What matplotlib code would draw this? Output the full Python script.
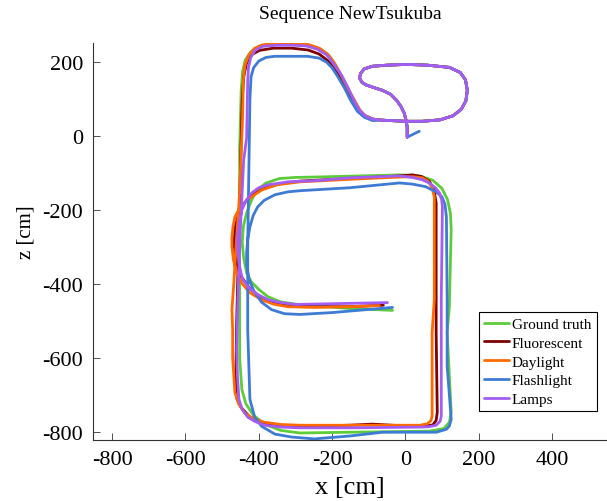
import numpy as np
import matplotlib
matplotlib.use("Agg")
import matplotlib.pyplot as plt

plt.rcParams['font.family'] = ['Liberation Serif', 'DejaVu Serif']
plt.rcParams['axes.unicode_minus'] = False

# small loop near the start point, shared by all runs (x, z in cm)
loop_x = [-63, 0, 46, 95, 130, 152, 165, 169, 164, 150, 120, 60, 3, -50, -90, -112, -122, -125,
          -118, -106, -85, -63, -40, -24, -12, -3, 2, 5, 5]
loop_z = [43, 40, 40, 44, 55, 72, 95, 124, 152, 172, 186, 192, 194, 192, 189, 182, 170, 157,
          145, 138, 131, 124, 113, 97, 80, 62, 42, 24, -3]

# ground truth
gt_x = [-35, -152, -248, -300, -340, -375, -400, -420, -433, -441, -445, -442, -433, -418, -403, -380,
        -343, -300, -248, -125, -16, 40, 75, 100, 115, 123, 125, 120, 114, 120, 125, 120, 105, 65, -152,
        -288, -340, -385, -415, -435, -446, -452, -452, -452, -448, -444, -437, -422, -400, -370, -310,
        -260, -230, -208, -192, -174, -155, -139, -125, -110, -90]
gt_z = [-472, -467, -459, -455, -449, -435, -415, -395, -370, -330, -289, -245, -208, -170, -145, -127,
        -115, -112, -111, -108, -105, -108, -120, -142, -172, -210, -254, -462, -532, -650, -748, -775, -792, -799, -802,
        -804, -797, -780, -755, -725, -686, -600, -443, -38, 120, 175, 205, 228, 243, 248, 248,
        245, 235, 218, 195, 157, 118, 94, 70, 55, 46]

# fluorescent
fl_x = [-60, -152, -248, -321, -360, -395, -425, -448, -462, -467, -465, -456, -440, -418, -388, -350,
        -288, -150, -16, 19, 45, 65, 78, 84, 84, 84, 87, 84, 75, 50, 19, -90, -152, -288, -345, -390,
        -425, -448, -460, -463, -460, -455, -450, -445, -441, -434, -420, -398, -360, -310, -265, -235,
        -210, -192, -180, -160, -139, -125, -110, -90]
fl_z = [-458, -462, -462, -460, -452, -436, -412, -380, -340, -295, -250, -212, -182, -160, -143, -130,
        -122, -115, -108, -105, -110, -122, -145, -181, -308, -532, -748, -770, -782, -786, -786, -780, -783, -786, -784, -776,
        -760, -735, -710, -686, -500, -300, -100, 100, 160, 195, 220, 232, 238, 238, 233, 222,
        203, 180, 160, 125, 94, 70, 55, 46]

# daylight
dl_x = [-71, -152, -248, -321, -360, -395, -424, -445, -460, -469, -473, -473, -470, -465, -452, -430,
        -410, -392, -350, -288, -150, -16, 20, 46, 62, 73, 79, 79, 79, 73, 73, 70, 60, 40, 0, -152,
        -288, -340, -384, -415, -438, -455, -465, -471, -471, -473, -468, -462, -455, -452, -448, -444,
        -442, -438, -428, -412, -390, -350, -310, -265, -235, -212, -195, -180, -160, -139, -125, -112, -90]
dl_z = [-459, -462, -464, -462, -455, -442, -424, -400, -370, -335, -300, -273, -245, -219, -195, -173,
        -158, -146, -132, -124, -117, -111, -110, -113, -122, -140, -165, -181, -443, -532, -758, -770, -779, -783, -783, -783,
        -783, -781, -775, -765, -750, -725, -694, -600, -524, -470, -400, -300, -200, -150, -50, 50,
        150, 190, 218, 237, 247, 251, 251, 248, 238, 222, 200, 175, 135, 97, 72, 57, 46]

# flashlight
bl_x = [-35, -106, -200, -288, -330, -365, -392, -412, -426, -433, -433, -430, -424, -415, -403, -385,
        -356, -320, -288, -152, -16, 19, 55, 84, 100, 108, 112, 114, 114, 120, 125, 120, 112, 84, -63,
        -150, -248, -310, -356, -392, -411, -424, -430, -430, -427, -424, -421, -414, -400, -380, -356,
        -267, -235, -215, -200, -185, -166, -150, -131, -112, -90]
bl_z = [-464, -470, -478, -483, -481, -470, -450, -422, -389, -350, -316, -280, -246, -215, -192, -174,
        -159, -151, -148, -140, -127, -130, -137, -151, -165, -185, -219, -443, -623, -700, -767, -785, -794, -802, -802,
        -812, -820, -815, -807, -786, -761, -713, -524, -300, -100, 100, 160, 185, 203, 213, 216,
        216, 211, 200, 185, 162, 130, 98, 67, 51, 42]
bl_tail_x = [38]
bl_tail_z = [13]

# lamps
lp_x = [-49, -152, -302, -345, -375, -405, -430, -445, -452, -457, -457, -453, -446, -435, -419, -400,
        -375, -320, -248, -150, -16, 19, 45, 65, 82, 93, 99, 101, 98, 98, 98, 95, 84, 65, 46, -152,
        -288, -340, -384, -410, -430, -445, -454, -458, -460, -457, -450, -441, -433, -430, -428, -422,
        -410, -389, -350, -310, -270, -240, -215, -199, -185, -174, -155, -139, -125, -110, -90]
lp_z = [-451, -453, -456, -450, -443, -428, -408, -385, -354, -315, -273, -235, -200, -175, -154, -140,
        -132, -124, -121, -113, -108, -112, -118, -127, -140, -154, -172, -192, -443, -532, -758, -772, -783, -787, -788, -790,
        -790, -788, -783, -773, -761, -740, -713, -650, -578, -443, -250, -65, -5, 150, 185, 212,
        232, 243, 246, 246, 244, 235, 220, 200, 180, 165, 128, 94, 70, 55, 46]

runs = [
    ("Ground truth", gt_x + loop_x, gt_z + loop_z, '#5dcc3a'),
    ("Fluorescent", fl_x + loop_x, fl_z + loop_z, '#7f0000'),
    ("Daylight", dl_x + loop_x, dl_z + loop_z, '#ff6a00'),
    ("Flashlight", bl_x + loop_x + bl_tail_x, bl_z + loop_z + bl_tail_z, '#3d7bd4'),
    ("Lamps", lp_x + loop_x, lp_z + loop_z, '#a35df2'),
]

fig = plt.figure(figsize=(6.07, 5.02), dpi=100)
ax = fig.add_axes([93 / 607, 61 / 502, 514 / 607, 397 / 502])

for name, xs, zs, col in runs:
    ax.plot(xs, zs, color=col, lw=2.0, label=name, solid_joinstyle='round', solid_capstyle='round')

ax.set_xlim(-852, 550)
ax.set_ylim(-823, 252)
ax.set_xticks([-800, -600, -400, -200, 0, 200, 400])
ax.set_yticks([-800, -600, -400, -200, 0, 200])

for s in ['top', 'right']:
    ax.spines[s].set_visible(False)
for s in ['left', 'bottom']:
    ax.spines[s].set_color('#333333')
    ax.spines[s].set_linewidth(0.8)
ax.tick_params(direction='in', length=5, width=0.6, color='#333333', labelsize=16, pad=7)

ax.set_title("Sequence NewTsukuba", fontsize=14, pad=18)
ax.set_xlabel("x [cm]", fontsize=19, labelpad=5)
ax.set_ylabel("z [cm]", fontsize=15)
ax.yaxis.set_label_coords(-0.112, 0.525)

ax.legend(loc='upper left', bbox_to_anchor=(479 / 607, 1 - 313 / 502), bbox_transform=fig.transFigure,
          borderaxespad=0, fontsize=11, handlelength=1.6, handletextpad=0.2, labelspacing=0.33,
          borderpad=0.35, fancybox=False, edgecolor='black', framealpha=1)
leg = ax.get_legend()
leg.get_frame().set_linewidth(0.8)

fig.savefig("out.png", dpi=100)
